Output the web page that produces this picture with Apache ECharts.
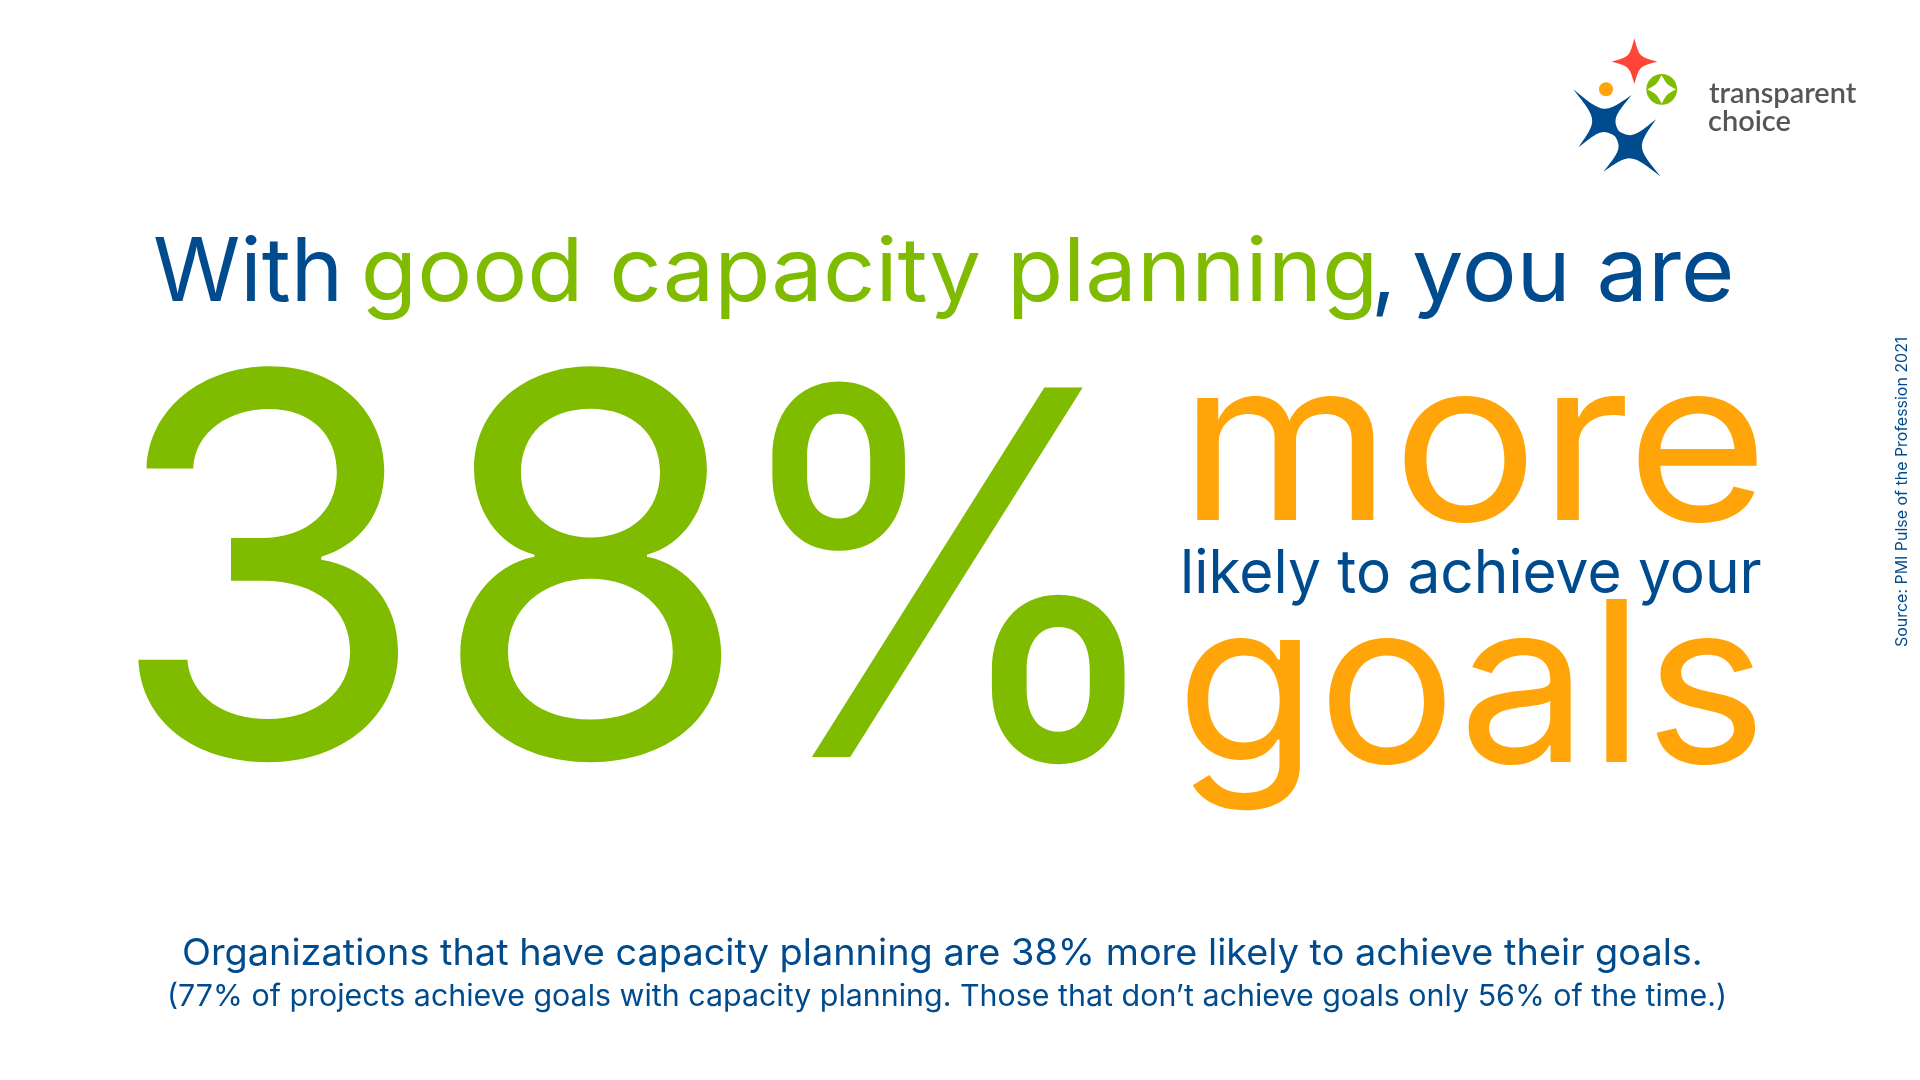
<!DOCTYPE html>
<html><head><meta charset="utf-8">
<style>html,body{margin:0;padding:0;background:#fff}#c{width:1920px;height:1080px}</style>
<script src="https://cdn.jsdelivr.net/npm/echarts@6/dist/echarts.min.js"></script>
</head><body><div id="c"></div>
<script>
const headlineSegments = ["With", "good capacity planning", ",", "you are"];
const bigValue = ["38", "%"];
const bigWordTop = "more";
const middleLine = "likely to achieve your";
const bigWordBottom = "goals";
const noteLine1 = "Organizations that have capacity planning are 38% more likely to achieve their goals.";
const noteLine2 = "(77% of projects achieve goals with capacity planning. Those that don\u2019t achieve goals only 56% of the time.)";
const sourceLine = "Source: PMI Pulse of the Profession 2021";
const logoWords = ["transparent", "choice"];

const NAVY = "#004b8d", GREEN = "#7fbc00", ORANGE = "#ffa50a", RED = "#ff4538", GREY = "#55565a";
const FONT = "Inter";
const ctx = document.createElement("canvas").getContext("2d");

function fit(text, x0, x1, base, size, color, weight, family) {
  const fam = family || FONT, w = weight || 400;
  ctx.font = `${w} ${size}px "${fam}"`;
  ctx.textBaseline = "middle";
  ctx.textAlign = "left";
  const m = ctx.measureText(text);
  const ink = m.actualBoundingBoxRight + m.actualBoundingBoxLeft;
  const d = ctx.measureText("H").actualBoundingBoxDescent;
  const sx = (x1 - x0) / ink;
  return { type: "text", x: x0 + m.actualBoundingBoxLeft * sx, y: base - d, scaleX: sx, silent: true,
    style: { text, fill: color, font: `${w} ${size}px "${fam}"`, align: "left", verticalAlign: "middle" } };
}
function fitUp(text, yBottom, yTop, baseX, size, color) {
  ctx.font = `400 ${size}px "${FONT}"`;
  ctx.textBaseline = "middle";
  const m = ctx.measureText(text);
  const ink = m.actualBoundingBoxRight + m.actualBoundingBoxLeft;
  const d = ctx.measureText("H").actualBoundingBoxDescent;
  const sx = (yBottom - yTop) / ink;
  return { type: "group", x: baseX - d, y: yBottom, rotation: Math.PI / 2, silent: true,
    children: [{ type: "text", scaleX: sx, x: m.actualBoundingBoxLeft * sx, y: 0,
      style: { text, fill: color, font: `400 ${size}px "${FONT}"`, align: "left", verticalAlign: "middle" } }] };
}
// Logo stars: concave four-point outlines sampled from cubic curves
function starPoints(cx, cy, tips, c) {
  const pts = [];
  for (let i = 0; i < 4; i++) {
    const a = tips[i], b = tips[(i + 1) % 4];
    const mx = (a[0] + b[0]) / 2 - cx, my = (a[1] + b[1]) / 2 - cy;
    const l = Math.hypot(mx, my) || 1;
    const hx = cx + mx / l * c, hy = cy + my / l * c;
    for (let k = 0; k < 24; k++) {
      const t = k / 24, u = 1 - t;
      const w0 = u * u * u, w1 = 3 * u * u * t + 3 * u * t * t, w3 = t * t * t;
      pts.push([w0 * a[0] + w1 * hx + w3 * b[0], w0 * a[1] + w1 * hy + w3 * b[1]]);
    }
  }
  return pts;
}
// zoom-crop frame for the logo: crop origin (1540,20), 3x
const Z = (x, y) => [1540 + x / 3, 20 + y / 3];
function logoStar(c, tips, k, fill) {
  const cc = Z(c[0], c[1]);
  return { type: "polygon", silent: true, shape: { points: starPoints(cc[0], cc[1], tips.map(t => Z(t[0], t[1])), k) }, style: { fill } };
}

const elements = [
  fit(headlineSegments[0], 155, 337, 301, 88, NAVY),
  fit(headlineSegments[1], 365, 1372, 301, 88, GREEN),
  fit(headlineSegments[2], 1376, 1390, 301, 88, NAVY),
  fit(headlineSegments[3], 1414, 1730, 301, 88, NAVY),
  fit(bigValue[0], 131, 723, 757, 530, GREEN, 400),
  fit(bigValue[1], 771, 1127, 757, 508, GREEN, 400),
  fit(bigWordTop, 1197, 1757, 520, 224, ORANGE, 400),
  fit(middleLine, 1184, 1761, 593, 60, NAVY),
  fit(bigWordBottom, 1187, 1756, 762, 224, ORANGE, 400),
  fit(noteLine1, 184, 1700, 965, 37, NAVY),
  fit(noteLine2, 170, 1724, 1006, 30, NAVY),
  fitUp(sourceLine, 647, 338, 1907, 15.5, NAVY),
  fit(logoWords[0], 1709, 1857, 103, 28, GREY, 600, "Lato"),
  fit(logoWords[1], 1709, 1790, 131, 28, GREY, 600, "Lato"),
  logoStar([283,125], [[283,55],[352,125],[283,192],[215,125]], 7, RED),
  { type: "circle", silent: true, shape: { cx: 1661.7, cy: 89.3, r: 15.4 }, style: { fill: GREEN } },
  logoStar([365,208], [[365,165],[408,208],[365,251],[322,208]], 7, "#fff"),
  { type: "circle", silent: true, shape: { cx: 1606, cy: 89.3, r: 7 }, style: { fill: ORANGE } },
  logoStar([192,302], [[100,208],[275,225],[268,380],[115,382]], 6.5, NAVY),
  logoStar([270,380], [[348,298],[362,470],[190,455],[192,302]], 6.5, NAVY)
];
const chart = echarts.init(document.getElementById("c"), null, { renderer: "canvas", width: 1920, height: 1080 });
chart.setOption({ backgroundColor: "#fff", animation: false, graphic: { elements } });
</script></body></html>
